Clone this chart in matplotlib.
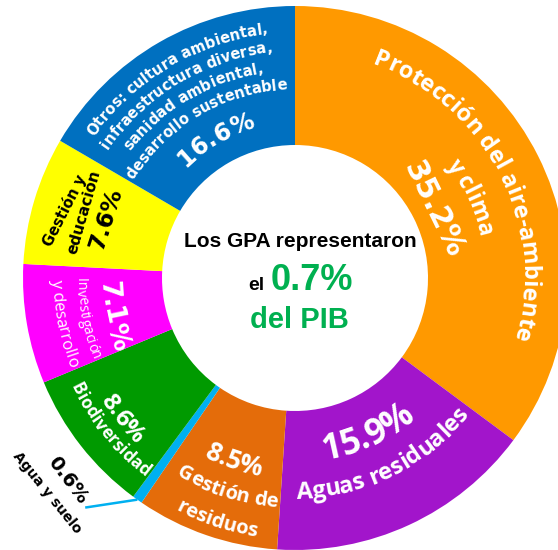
import numpy as np
import matplotlib.pyplot as plt
from matplotlib.font_manager import FontProperties, findfont, get_font

# Gastos en protección ambiental (GPA) por categoría, % del total
categories = ["Protección del aire-ambiente y clima", "Aguas residuales",
              "Gestión de residuos", "Agua y suelo", "Biodiversidad",
              "Investigación y desarrollo", "Gestión y educación",
              "Otros: cultura ambiental, infraestructura diversa, "
              "sanidad ambiental, desarrollo sustentable"]
shares = [35.2, 15.9, 8.5, 0.6, 8.6, 7.1, 7.6, 16.6]
colors = ["#FF9900", "#A215CB", "#E46C0A", "#00B0F0",
          "#009A00", "#FF00FF", "#FFFF00", "#0070C0"]
pib_share = 0.7

DPI = 100
SCALE = 272.0          # pixels per unit radius
CX, CY = 295, 278      # donut centre in pixels
HOLE = 133 / SCALE

fig = plt.figure(figsize=(5.58, 5.50), dpi=DPI)
ax = fig.add_axes([0, 0, 1, 1])
wedges, _ = ax.pie(shares, colors=colors, startangle=90, counterclock=False,
                   radius=1, wedgeprops=dict(width=1 - HOLE, linewidth=0))
ax.set_xlim(-CX / SCALE, (558 - CX) / SCALE)
ax.set_ylim(-(550 - CY) / SCALE, CY / SCALE)
ax.axis("off")

mids = [(w.theta1 + w.theta2) / 2 for w in wedges]


def polar(r_px, ang):
    a = np.radians(ang)
    return r_px / SCALE * np.cos(a), r_px / SCALE * np.sin(a)


def arc_text(s, r_px, ang, size, color="white", family="Open Sans",
             weight="bold", outward=True):
    # place each character along a circle of radius r_px (glyph middle)
    fp = FontProperties(family=family, weight=weight, size=size)
    font = get_font(findfont(fp))
    font.set_size(size, DPI)
    adv = np.array([font.load_char(ord(c)).linearHoriAdvance / 65536 for c in s])
    pos = np.cumsum(adv) - adv / 2 - adv.sum() / 2
    em = size * DPI / 72
    rb = r_px - 0.36 * em if outward else r_px + 0.36 * em
    for c, p in zip(s, pos):
        if c == " ":
            continue
        d = np.degrees(p / rb)
        th = ang - d if outward else ang + d
        rot = th - 90 if outward else th + 90
        x, y = polar(rb, th)
        ax.text(x, y, c, rotation=rot, rotation_mode="anchor", ha="center",
                va="baseline", fontproperties=fp, color=color)


def flat_text(s, r_px, ang, rot, size, color="black", family="DejaVu Sans",
              weight="bold"):
    x, y = polar(r_px, ang)
    ax.text(x, y, s, rotation=rot, rotation_mode="anchor", ha="center",
            va="center", family=family, weight=weight, size=size, color=color)


pct = [f"{v}%" for v in shares]

# Protección del aire-ambiente y clima
arc_text("Protección del aire-ambiente", 236, mids[0] + 0.5, 17)
arc_text("y clima", 197, mids[0] - 2, 16.5)
flat_text(pct[0], 155, mids[0] - 0.3, -64, 21.5, color="white")

# Aguas residuales
arc_text(pct[1], 172, mids[1] + 0.3, 25, outward=False)
arc_text("Aguas residuales", 212, mids[1] + 1.4, 17, outward=False)

# Gestión de residuos
arc_text(pct[2], 192, mids[2] + 0.5, 18.5, outward=False)
arc_text("Gestión de", 223, mids[2] + 1.3, 14.5, outward=False)
arc_text("residuos", 254, mids[2] + 1.1, 14.5, outward=False)

# Agua y suelo, label outside with leader line
x0, y0 = polar(SCALE, mids[3])
x1, y1 = polar(311, mids[3] - 7)
ax.plot([x0, x1], [y0, y1], color=colors[3], lw=1.8, solid_capstyle="butt")
flat_text(pct[3], 304, mids[3] - 12.9, -53, 14)
flat_text("Agua y suelo", 328, mids[3] - 13.7, -51, 10)

# Biodiversidad
arc_text(pct[4], 221, mids[4] + 1, 17.5, outward=False)
arc_text("Biodiversidad", 243, mids[4] + 1.3, 12.5, outward=False)

# Investigación y desarrollo
arc_text(pct[5], 185, mids[5] + 1.8, 19, family="DejaVu Sans", outward=False)
arc_text("Investigación", 213, mids[5] + 1.3, 10, weight="normal", outward=False)
arc_text("y desarrollo", 237, mids[5] + 1.2, 12, weight="normal", outward=False)

# Gestión y educación
flat_text("Gestión y", 240, mids[6] + 0.2, 63, 10.5)
flat_text("educación", 221, mids[6] - 0.6, 74, 11)
flat_text(pct[6], 198, mids[6] - 0.9, 72, 16.5)

# Otros
otros = ["Otros: cultura ambiental,", "infraestructura diversa,",
         "sanidad ambiental,", "desarrollo sustentable"]
for line, r in zip(otros, [251, 232, 213, 194]):
    arc_text(line, r, mids[7] + 0.8, 10.5, family="DejaVu Sans")
arc_text(pct[7], 164, mids[7], 17, family="DejaVu Sans")

# centre text
green = "#00B050"
px = lambda x, y: ((x - CX) / SCALE, (CY - y) / SCALE)
ax.text(*px(300, 247), "Los GPA representaron", ha="center", va="baseline",
        family="Liberation Sans", weight="bold", size=15, color="black")
ax.text(*px(264, 290), "el", ha="right", va="baseline",
        family="Liberation Sans", weight="bold", size=14, color="black")
ax.text(*px(271, 290), f"{pib_share}%", ha="left", va="baseline",
        family="Liberation Sans", weight="bold", size=26, color=green)
ax.text(*px(299, 328), "del PIB", ha="center", va="baseline",
        family="Liberation Sans", weight="bold", size=21, color=green)

fig.savefig("out.png", dpi=DPI)
